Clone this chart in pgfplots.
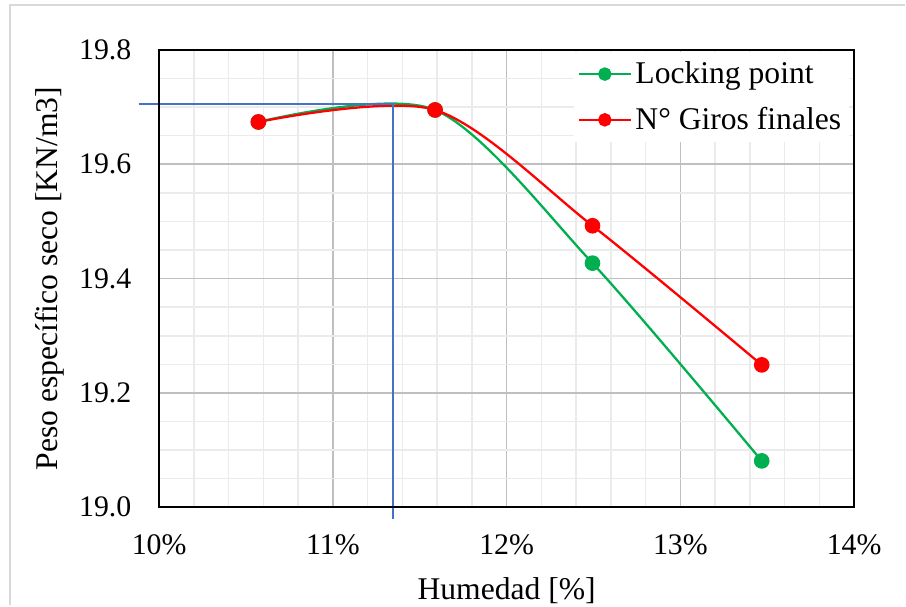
\documentclass[border=0pt]{standalone}
\usepackage{fontspec}
\setmainfont{Liberation Serif}
\usepackage{pgfplots}
\pgfplotsset{compat=1.18}
\definecolor{cgreen}{HTML}{00B050}
\definecolor{cred}{HTML}{FF0000}
\definecolor{cblue}{HTML}{4472C4}
\definecolor{gmaj}{HTML}{BFBFBF}
\definecolor{gmin}{HTML}{EBEBEB}
\begin{document}
\begin{tikzpicture}
\begin{axis}[
  name=ax,
  scale only axis,
  width=13.914cm, height=9.154cm,
  xmin=10, xmax=14, ymin=19.0, ymax=19.8,
  xtick={10,11,12,13,14},
  xticklabels={10\%,11\%,12\%,13\%,14\%},
  ytick={19.0,19.2,19.4,19.6,19.8},
  yticklabels={19.0,19.2,19.4,19.6,19.8},
  minor x tick num=4, minor y tick num=3,
  major tick length=0pt, minor tick length=0pt,
  grid=both,
  major grid style={gmaj, line width=0.9pt},
  minor grid style={gmin, line width=0.9pt},
  axis line style={black, line width=1.1pt},
  clip=false,
  xticklabel style={anchor=base, inner sep=0pt, yshift=-0.94cm, font=\fontsize{17}{20}\selectfont},
  yticklabel style={anchor=east, inner sep=0pt, xshift=-0.55cm, font=\fontsize{17}{20}\selectfont},
  xlabel={Humedad [\%]},
  ylabel={Peso específico seco [KN/m3]},
  xlabel style={at={(axis description cs:0.5,-0.2017)}, anchor=base, inner sep=0pt, font=\fontsize{18}{21}\selectfont},
  ylabel style={at={(axis description cs:-0.157,0.5)}, anchor=center, rotate=0, inner sep=0pt, font=\fontsize{18}{21}\selectfont},
  legend style={draw=none, fill=white, at={(rel axis cs:0.596,0.9956)}, anchor=north west,
    font=\fontsize{18}{21}\selectfont, inner xsep=0.08cm, inner ysep=0.12cm, row sep=0.28cm},
  legend cell align=left,
  legend image code/.code={\draw[mark repeat=2,mark phase=2,mark size=3.2pt] plot coordinates {(0cm,0cm) (0.52cm,0cm) (1.04cm,0cm)};},
]
\addplot[cgreen, line width=1.3pt, smooth, tension=0.5, mark=*, mark size=3.8pt, mark options={fill=cgreen, draw=cgreen}]
  coordinates {(10.571,19.674) (11.588,19.695) (12.494,19.427) (13.468,19.081)};
\addlegendentry{Locking point}
\addplot[cred, line width=1.3pt, smooth, tension=0.5, mark=*, mark size=3.8pt, mark options={fill=cred, draw=cred}]
  coordinates {(10.571,19.674) (11.588,19.695) (12.494,19.4924) (13.468,19.249)};
\addlegendentry{N° Giros finales}
\addplot[cblue, line width=1.4pt, forget plot]
  coordinates {(9.883,19.7056) (11.345,19.7056) (11.345,18.9785)};
\end{axis}
\draw[black, line width=1.1pt] (ax.south west) rectangle (ax.north east);
\coordinate (bl) at ([shift={(-3.186cm,-1.966cm)}]ax.south west);
\coordinate (tr) at ([shift={(1.02cm,1.0cm)}]ax.north east);
\path (bl) rectangle (tr);
\draw[black!15, line width=1pt] ([xshift=0.2cm]bl) -- ++(0,12.02cm) -- ++(17.92cm,0);
\end{tikzpicture}
\end{document}
